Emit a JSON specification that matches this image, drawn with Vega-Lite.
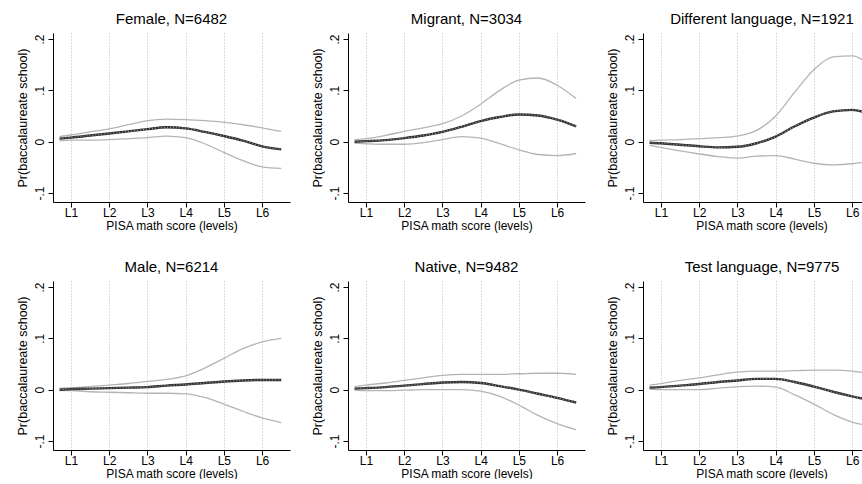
{
  "$schema": "https://vega.github.io/schema/vega-lite/v6.json",
  "background": "white",
  "padding": {"left": 16, "top": 12, "right": 0, "bottom": 0},
  "bounds": "full",
  "spacing": 29,
  "config": {
    "font": "Liberation Sans",
    "view": {"stroke": null},
    "title": {"font": "Liberation Sans", "fontSize": 15, "fontWeight": "normal", "color": "#000", "offset": 6, "anchor": "middle"},
    "axis": {"labelFont": "Liberation Sans", "titleFont": "Liberation Sans", "labelColor": "#000", "titleColor": "#000", "domainColor": "#000", "tickColor": "#000", "titleFontWeight": "normal", "labelFontSize": 12, "titleFontSize": 12},
    "axisX": {"labelExpr": "'L' + datum.value", "grid": true, "gridDash": [1, 2], "gridColor": "#b8b8b8", "gridWidth": 1, "tickSize": 5, "labelPadding": 0, "titlePadding": 2, "labelFlush": false},
    "axisY": {"labelExpr": "datum.value == 0 ? '0' : datum.value > 0.15 ? '.2' : datum.value > 0.05 ? '.1' : '-.1'", "labelAngle": -90, "labelAlign": "center", "labelBaseline": "bottom", "titleFontSize": 12.5, "grid": false, "tickSize": 5, "labelPadding": 2, "titlePadding": 4},
    "line": {"interpolate": "monotone"}
  },
  "datasets": {"d": [
    {"panel":"Female","x":0.7,"mid":0.006,"hi":0.010,"lo":0.002},
    {"panel":"Female","x":1.0,"mid":0.008,"hi":0.013,"lo":0.003},
    {"panel":"Female","x":1.5,"mid":0.012,"hi":0.019,"lo":0.003},
    {"panel":"Female","x":2.0,"mid":0.016,"hi":0.025,"lo":0.004},
    {"panel":"Female","x":2.5,"mid":0.020,"hi":0.033,"lo":0.006},
    {"panel":"Female","x":3.0,"mid":0.0245,"hi":0.041,"lo":0.008},
    {"panel":"Female","x":3.5,"mid":0.028,"hi":0.044,"lo":0.011},
    {"panel":"Female","x":4.0,"mid":0.026,"hi":0.043,"lo":0.008},
    {"panel":"Female","x":4.5,"mid":0.019,"hi":0.041,"lo":-0.004},
    {"panel":"Female","x":5.0,"mid":0.011,"hi":0.038,"lo":-0.021},
    {"panel":"Female","x":5.5,"mid":0.002,"hi":0.033,"lo":-0.037},
    {"panel":"Female","x":6.0,"mid":-0.009,"hi":0.027,"lo":-0.049},
    {"panel":"Female","x":6.5,"mid":-0.015,"hi":0.020,"lo":-0.052},

    {"panel":"Migrant","x":0.7,"mid":0.000,"hi":0.004,"lo":-0.003},
    {"panel":"Migrant","x":1.0,"mid":0.001,"hi":0.006,"lo":-0.004},
    {"panel":"Migrant","x":1.5,"mid":0.003,"hi":0.012,"lo":-0.005},
    {"panel":"Migrant","x":2.0,"mid":0.007,"hi":0.020,"lo":-0.005},
    {"panel":"Migrant","x":2.5,"mid":0.012,"hi":0.027,"lo":-0.002},
    {"panel":"Migrant","x":3.0,"mid":0.019,"hi":0.035,"lo":0.004},
    {"panel":"Migrant","x":3.5,"mid":0.029,"hi":0.050,"lo":0.010},
    {"panel":"Migrant","x":4.0,"mid":0.040,"hi":0.073,"lo":0.007},
    {"panel":"Migrant","x":4.5,"mid":0.048,"hi":0.100,"lo":-0.004},
    {"panel":"Migrant","x":5.0,"mid":0.053,"hi":0.120,"lo":-0.016},
    {"panel":"Migrant","x":5.5,"mid":0.051,"hi":0.124,"lo":-0.025},
    {"panel":"Migrant","x":6.0,"mid":0.043,"hi":0.110,"lo":-0.027},
    {"panel":"Migrant","x":6.5,"mid":0.030,"hi":0.084,"lo":-0.023},

    {"panel":"Different","x":0.7,"mid":-0.002,"hi":0.002,"lo":-0.007},
    {"panel":"Different","x":1.0,"mid":-0.003,"hi":0.003,"lo":-0.011},
    {"panel":"Different","x":1.5,"mid":-0.006,"hi":0.004,"lo":-0.018},
    {"panel":"Different","x":2.0,"mid":-0.009,"hi":0.006,"lo":-0.024},
    {"panel":"Different","x":2.5,"mid":-0.011,"hi":0.008,"lo":-0.029},
    {"panel":"Different","x":3.0,"mid":-0.010,"hi":0.011,"lo":-0.032},
    {"panel":"Different","x":3.5,"mid":-0.003,"hi":0.022,"lo":-0.028},
    {"panel":"Different","x":4.0,"mid":0.010,"hi":0.050,"lo":-0.027},
    {"panel":"Different","x":4.5,"mid":0.030,"hi":0.097,"lo":-0.034},
    {"panel":"Different","x":5.0,"mid":0.047,"hi":0.140,"lo":-0.042},
    {"panel":"Different","x":5.5,"mid":0.059,"hi":0.165,"lo":-0.045},
    {"panel":"Different","x":6.0,"mid":0.062,"hi":0.167,"lo":-0.043},
    {"panel":"Different","x":6.5,"mid":0.053,"hi":0.145,"lo":-0.037},

    {"panel":"Male","x":0.7,"mid":0.000,"hi":0.003,"lo":-0.002},
    {"panel":"Male","x":1.0,"mid":0.001,"hi":0.004,"lo":-0.002},
    {"panel":"Male","x":1.5,"mid":0.002,"hi":0.006,"lo":-0.004},
    {"panel":"Male","x":2.0,"mid":0.003,"hi":0.009,"lo":-0.005},
    {"panel":"Male","x":2.5,"mid":0.004,"hi":0.012,"lo":-0.006},
    {"panel":"Male","x":3.0,"mid":0.005,"hi":0.016,"lo":-0.007},
    {"panel":"Male","x":3.5,"mid":0.008,"hi":0.020,"lo":-0.007},
    {"panel":"Male","x":4.0,"mid":0.010,"hi":0.027,"lo":-0.008},
    {"panel":"Male","x":4.5,"mid":0.013,"hi":0.042,"lo":-0.015},
    {"panel":"Male","x":5.0,"mid":0.016,"hi":0.061,"lo":-0.028},
    {"panel":"Male","x":5.5,"mid":0.018,"hi":0.080,"lo":-0.042},
    {"panel":"Male","x":6.0,"mid":0.019,"hi":0.093,"lo":-0.055},
    {"panel":"Male","x":6.5,"mid":0.019,"hi":0.100,"lo":-0.064},

    {"panel":"Native","x":0.7,"mid":0.002,"hi":0.006,"lo":-0.001},
    {"panel":"Native","x":1.0,"mid":0.003,"hi":0.009,"lo":-0.002},
    {"panel":"Native","x":1.5,"mid":0.005,"hi":0.013,"lo":-0.002},
    {"panel":"Native","x":2.0,"mid":0.008,"hi":0.018,"lo":-0.001},
    {"panel":"Native","x":2.5,"mid":0.011,"hi":0.023,"lo":0.000},
    {"panel":"Native","x":3.0,"mid":0.014,"hi":0.028,"lo":0.000},
    {"panel":"Native","x":3.5,"mid":0.015,"hi":0.030,"lo":0.000},
    {"panel":"Native","x":4.0,"mid":0.013,"hi":0.030,"lo":-0.003},
    {"panel":"Native","x":4.5,"mid":0.007,"hi":0.030,"lo":-0.013},
    {"panel":"Native","x":5.0,"mid":0.000,"hi":0.031,"lo":-0.030},
    {"panel":"Native","x":5.5,"mid":-0.008,"hi":0.032,"lo":-0.050},
    {"panel":"Native","x":6.0,"mid":-0.016,"hi":0.032,"lo":-0.066},
    {"panel":"Native","x":6.5,"mid":-0.025,"hi":0.030,"lo":-0.078},

    {"panel":"Test","x":0.7,"mid":0.004,"hi":0.009,"lo":0.001},
    {"panel":"Test","x":1.0,"mid":0.005,"hi":0.012,"lo":0.000},
    {"panel":"Test","x":1.5,"mid":0.008,"hi":0.018,"lo":0.000},
    {"panel":"Test","x":2.0,"mid":0.011,"hi":0.023,"lo":0.000},
    {"panel":"Test","x":2.5,"mid":0.015,"hi":0.029,"lo":0.003},
    {"panel":"Test","x":3.0,"mid":0.018,"hi":0.034,"lo":0.006},
    {"panel":"Test","x":3.5,"mid":0.021,"hi":0.036,"lo":0.007},
    {"panel":"Test","x":4.0,"mid":0.021,"hi":0.036,"lo":0.005},
    {"panel":"Test","x":4.5,"mid":0.015,"hi":0.037,"lo":-0.010},
    {"panel":"Test","x":5.0,"mid":0.006,"hi":0.038,"lo":-0.028},
    {"panel":"Test","x":5.5,"mid":-0.004,"hi":0.038,"lo":-0.048},
    {"panel":"Test","x":6.0,"mid":-0.013,"hi":0.036,"lo":-0.063},
    {"panel":"Test","x":6.5,"mid":-0.021,"hi":0.031,"lo":-0.071}
  ]},
  "vconcat": [
    {
      "bounds": "flush",
      "spacing": 58,
      "hconcat": [
        {
          "width": 237, "height": 169,
          "title": "Female, N=6482",
          "data": {"name": "d"},
          "transform": [{"filter": "datum.panel == 'Female'"}],
          "encoding": {"x": {"field": "x", "type": "quantitative", "scale": {"domain": [0.53, 6.73], "nice": false, "zero": false}, "axis": {"title": "PISA math score (levels)", "values": [1, 2, 3, 4, 5, 6]}}},
          "layer": [
            {"mark": {"type": "rule", "color": "#000", "strokeWidth": 1}, "encoding": {"y": {"datum": 0, "type": "quantitative", "scale": {"domain": [-0.1175, 0.2117], "nice": false, "zero": false}, "axis": {"title": "Pr(baccalaureate school)", "values": [-0.1, 0, 0.1, 0.2]}}}},
            {"mark": {"type": "line", "color": "#b4b4b4", "strokeWidth": 1.3}, "encoding": {"y": {"field": "hi", "type": "quantitative"}}},
            {"mark": {"type": "line", "color": "#b4b4b4", "strokeWidth": 1.3}, "encoding": {"y": {"field": "lo", "type": "quantitative"}}},
            {"mark": {"type": "line", "color": "#2e2e2e", "strokeWidth": 2.4}, "encoding": {"y": {"field": "mid", "type": "quantitative"}}},
            {"mark": {"type": "line", "color": "#9a9a9a", "strokeWidth": 1.2, "strokeDash": [1, 2]}, "encoding": {"y": {"field": "mid", "type": "quantitative"}}}
          ]
        },
        {
          "width": 237, "height": 169,
          "title": "Migrant, N=3034",
          "data": {"name": "d"},
          "transform": [{"filter": "datum.panel == 'Migrant'"}],
          "encoding": {"x": {"field": "x", "type": "quantitative", "scale": {"domain": [0.53, 6.73], "nice": false, "zero": false}, "axis": {"title": "PISA math score (levels)", "values": [1, 2, 3, 4, 5, 6]}}},
          "layer": [
            {"mark": {"type": "rule", "color": "#000", "strokeWidth": 1}, "encoding": {"y": {"datum": 0, "type": "quantitative", "scale": {"domain": [-0.1175, 0.2117], "nice": false, "zero": false}, "axis": {"title": "Pr(baccalaureate school)", "values": [-0.1, 0, 0.1, 0.2]}}}},
            {"mark": {"type": "line", "color": "#b4b4b4", "strokeWidth": 1.3}, "encoding": {"y": {"field": "hi", "type": "quantitative"}}},
            {"mark": {"type": "line", "color": "#b4b4b4", "strokeWidth": 1.3}, "encoding": {"y": {"field": "lo", "type": "quantitative"}}},
            {"mark": {"type": "line", "color": "#2e2e2e", "strokeWidth": 2.4}, "encoding": {"y": {"field": "mid", "type": "quantitative"}}},
            {"mark": {"type": "line", "color": "#9a9a9a", "strokeWidth": 1.2, "strokeDash": [1, 2]}, "encoding": {"y": {"field": "mid", "type": "quantitative"}}}
          ]
        },
        {
          "width": 226, "height": 169,
          "title": {"text": "Different language, N=1921", "dx": 6},
          "data": {"name": "d"},
          "transform": [{"filter": "datum.panel == 'Different'"}],
          "encoding": {"x": {"field": "x", "type": "quantitative", "scale": {"domain": [0.53, 6.44], "nice": false, "zero": false}, "axis": {"title": "PISA math score (levels)", "values": [1, 2, 3, 4, 5, 6], "titleX": 118.5, "titleAlign": "center"}}},
          "layer": [
            {"mark": {"type": "rule", "color": "#000", "strokeWidth": 1}, "encoding": {"y": {"datum": 0, "type": "quantitative", "scale": {"domain": [-0.1175, 0.2117], "nice": false, "zero": false}, "axis": {"title": "Pr(baccalaureate school)", "values": [-0.1, 0, 0.1, 0.2]}}}},
            {"mark": {"type": "line", "color": "#b4b4b4", "strokeWidth": 1.3, "clip": true}, "encoding": {"y": {"field": "hi", "type": "quantitative"}}},
            {"mark": {"type": "line", "color": "#b4b4b4", "strokeWidth": 1.3, "clip": true}, "encoding": {"y": {"field": "lo", "type": "quantitative"}}},
            {"mark": {"type": "line", "color": "#2e2e2e", "strokeWidth": 2.4, "clip": true}, "encoding": {"y": {"field": "mid", "type": "quantitative"}}},
            {"mark": {"type": "line", "color": "#9a9a9a", "strokeWidth": 1.2, "strokeDash": [1, 2], "clip": true}, "encoding": {"y": {"field": "mid", "type": "quantitative"}}}
          ]
        }
      ]
    },
    {
      "bounds": "flush",
      "spacing": 58,
      "hconcat": [
        {
          "width": 237, "height": 169,
          "title": "Male, N=6214",
          "data": {"name": "d"},
          "transform": [{"filter": "datum.panel == 'Male'"}],
          "encoding": {"x": {"field": "x", "type": "quantitative", "scale": {"domain": [0.53, 6.73], "nice": false, "zero": false}, "axis": {"title": "PISA math score (levels)", "values": [1, 2, 3, 4, 5, 6]}}},
          "layer": [
            {"mark": {"type": "rule", "color": "#000", "strokeWidth": 1}, "encoding": {"y": {"datum": 0, "type": "quantitative", "scale": {"domain": [-0.1175, 0.2117], "nice": false, "zero": false}, "axis": {"title": "Pr(baccalaureate school)", "values": [-0.1, 0, 0.1, 0.2]}}}},
            {"mark": {"type": "line", "color": "#b4b4b4", "strokeWidth": 1.3}, "encoding": {"y": {"field": "hi", "type": "quantitative"}}},
            {"mark": {"type": "line", "color": "#b4b4b4", "strokeWidth": 1.3}, "encoding": {"y": {"field": "lo", "type": "quantitative"}}},
            {"mark": {"type": "line", "color": "#2e2e2e", "strokeWidth": 2.4}, "encoding": {"y": {"field": "mid", "type": "quantitative"}}},
            {"mark": {"type": "line", "color": "#9a9a9a", "strokeWidth": 1.2, "strokeDash": [1, 2]}, "encoding": {"y": {"field": "mid", "type": "quantitative"}}}
          ]
        },
        {
          "width": 237, "height": 169,
          "title": "Native, N=9482",
          "data": {"name": "d"},
          "transform": [{"filter": "datum.panel == 'Native'"}],
          "encoding": {"x": {"field": "x", "type": "quantitative", "scale": {"domain": [0.53, 6.73], "nice": false, "zero": false}, "axis": {"title": "PISA math score (levels)", "values": [1, 2, 3, 4, 5, 6]}}},
          "layer": [
            {"mark": {"type": "rule", "color": "#000", "strokeWidth": 1}, "encoding": {"y": {"datum": 0, "type": "quantitative", "scale": {"domain": [-0.1175, 0.2117], "nice": false, "zero": false}, "axis": {"title": "Pr(baccalaureate school)", "values": [-0.1, 0, 0.1, 0.2]}}}},
            {"mark": {"type": "line", "color": "#b4b4b4", "strokeWidth": 1.3}, "encoding": {"y": {"field": "hi", "type": "quantitative"}}},
            {"mark": {"type": "line", "color": "#b4b4b4", "strokeWidth": 1.3}, "encoding": {"y": {"field": "lo", "type": "quantitative"}}},
            {"mark": {"type": "line", "color": "#2e2e2e", "strokeWidth": 2.4}, "encoding": {"y": {"field": "mid", "type": "quantitative"}}},
            {"mark": {"type": "line", "color": "#9a9a9a", "strokeWidth": 1.2, "strokeDash": [1, 2]}, "encoding": {"y": {"field": "mid", "type": "quantitative"}}}
          ]
        },
        {
          "width": 226, "height": 169,
          "title": {"text": "Test language, N=9775", "dx": 6},
          "data": {"name": "d"},
          "transform": [{"filter": "datum.panel == 'Test'"}],
          "encoding": {"x": {"field": "x", "type": "quantitative", "scale": {"domain": [0.53, 6.44], "nice": false, "zero": false}, "axis": {"title": "PISA math score (levels)", "values": [1, 2, 3, 4, 5, 6], "titleX": 118.5, "titleAlign": "center"}}},
          "layer": [
            {"mark": {"type": "rule", "color": "#000", "strokeWidth": 1}, "encoding": {"y": {"datum": 0, "type": "quantitative", "scale": {"domain": [-0.1175, 0.2117], "nice": false, "zero": false}, "axis": {"title": "Pr(baccalaureate school)", "values": [-0.1, 0, 0.1, 0.2]}}}},
            {"mark": {"type": "line", "color": "#b4b4b4", "strokeWidth": 1.3, "clip": true}, "encoding": {"y": {"field": "hi", "type": "quantitative"}}},
            {"mark": {"type": "line", "color": "#b4b4b4", "strokeWidth": 1.3, "clip": true}, "encoding": {"y": {"field": "lo", "type": "quantitative"}}},
            {"mark": {"type": "line", "color": "#2e2e2e", "strokeWidth": 2.4, "clip": true}, "encoding": {"y": {"field": "mid", "type": "quantitative"}}},
            {"mark": {"type": "line", "color": "#9a9a9a", "strokeWidth": 1.2, "strokeDash": [1, 2], "clip": true}, "encoding": {"y": {"field": "mid", "type": "quantitative"}}}
          ]
        }
      ]
    }
  ]
}
